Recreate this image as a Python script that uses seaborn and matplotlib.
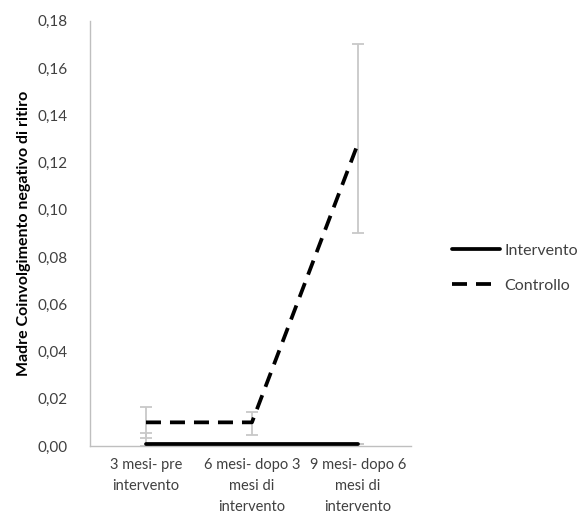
import matplotlib
matplotlib.use("Agg")
import matplotlib.pyplot as plt
import seaborn as sns
import pandas as pd
from matplotlib.ticker import FuncFormatter
from matplotlib.lines import Line2D

categories = ["3 mesi- pre\nintervento", "6 mesi- dopo 3\nmesi di\nintervento", "9 mesi- dopo 6\nmesi di\nintervento"]
intervento = [0.001, 0.001, 0.001]
intervento_err_low = [0.001, 0.0, 0.0]
intervento_err_high = [0.0046, 0.0, 0.0]
controllo = [0.010, 0.010, 0.128]
controllo_err_low = [0.0066, 0.0053, 0.038]
controllo_err_high = [0.0066, 0.0045, 0.042]
yticks = [0.00, 0.02, 0.04, 0.06, 0.08, 0.10, 0.12, 0.14, 0.16, 0.18]

sns.set_style("white")
plt.rcParams['font.family'] = ['Lato', 'DejaVu Sans']
txt = "#404040"

df = pd.DataFrame({
    "x": list(range(3)) * 2,
    "y": intervento + controllo,
    "serie": ["Intervento"] * 3 + ["Controllo"] * 3,
})

fig = plt.figure(figsize=(5.87, 5.21), dpi=100)
ax = fig.add_axes([0.153, 0.144, 0.547, 0.816])

xs = list(range(3))
ax.errorbar(xs, controllo, yerr=[controllo_err_low, controllo_err_high], fmt="none",
            ecolor="#c8c8c8", elinewidth=1.3, capsize=4, capthick=1.3, zorder=1)
ax.errorbar(xs, intervento, yerr=[intervento_err_low, intervento_err_high], fmt="none",
            ecolor="#c8c8c8", elinewidth=1.3, capsize=4, capthick=1.3, zorder=1)

dash = (4, 2.4)
sns.lineplot(data=df, x="x", y="y", hue="serie", style="serie",
             palette={"Intervento": "black", "Controllo": "black"},
             dashes={"Intervento": "", "Controllo": dash},
             linewidth=2.7, ax=ax, legend=False, zorder=3)

ax.set_xlim(-0.53, 2.5)
ax.set_ylim(0, 0.18)
ax.set_yticks(yticks)
ax.yaxis.set_major_formatter(FuncFormatter(lambda v, p: f"{v:.2f}".replace(".", ",")))
ax.set_xticks(xs)
ax.set_xticklabels(categories, color=txt, fontsize=10.5, linespacing=1.6)
ax.tick_params(axis="y", colors=txt, labelsize=11, length=0, pad=16)
ax.tick_params(axis="x", length=0, pad=9)
for lab in ax.get_yticklabels():
    lab.set_color(txt)
ax.set_xlabel("")
ax.set_ylabel("Madre Coinvolgimento negativo di ritiro", fontsize=11.5, fontweight="bold",
              color="black", labelpad=5)
for s in ["top", "right"]:
    ax.spines[s].set_visible(False)
for s in ["left", "bottom"]:
    ax.spines[s].set_color("#bfbfbf")
    ax.spines[s].set_linewidth(1.0)

handles = [Line2D([0], [0], color="black", lw=2.7),
           Line2D([0], [0], color="black", lw=2.7, linestyle=(0, dash))]
fig.legend(handles, ["Intervento", "Controllo"], loc="center left",
           bbox_to_anchor=(0.745, 0.485), frameon=False, fontsize=11.5,
           labelcolor=txt, handlelength=3.0, labelspacing=1.3, handletextpad=0.3)

fig.savefig("out.png", dpi=100)
